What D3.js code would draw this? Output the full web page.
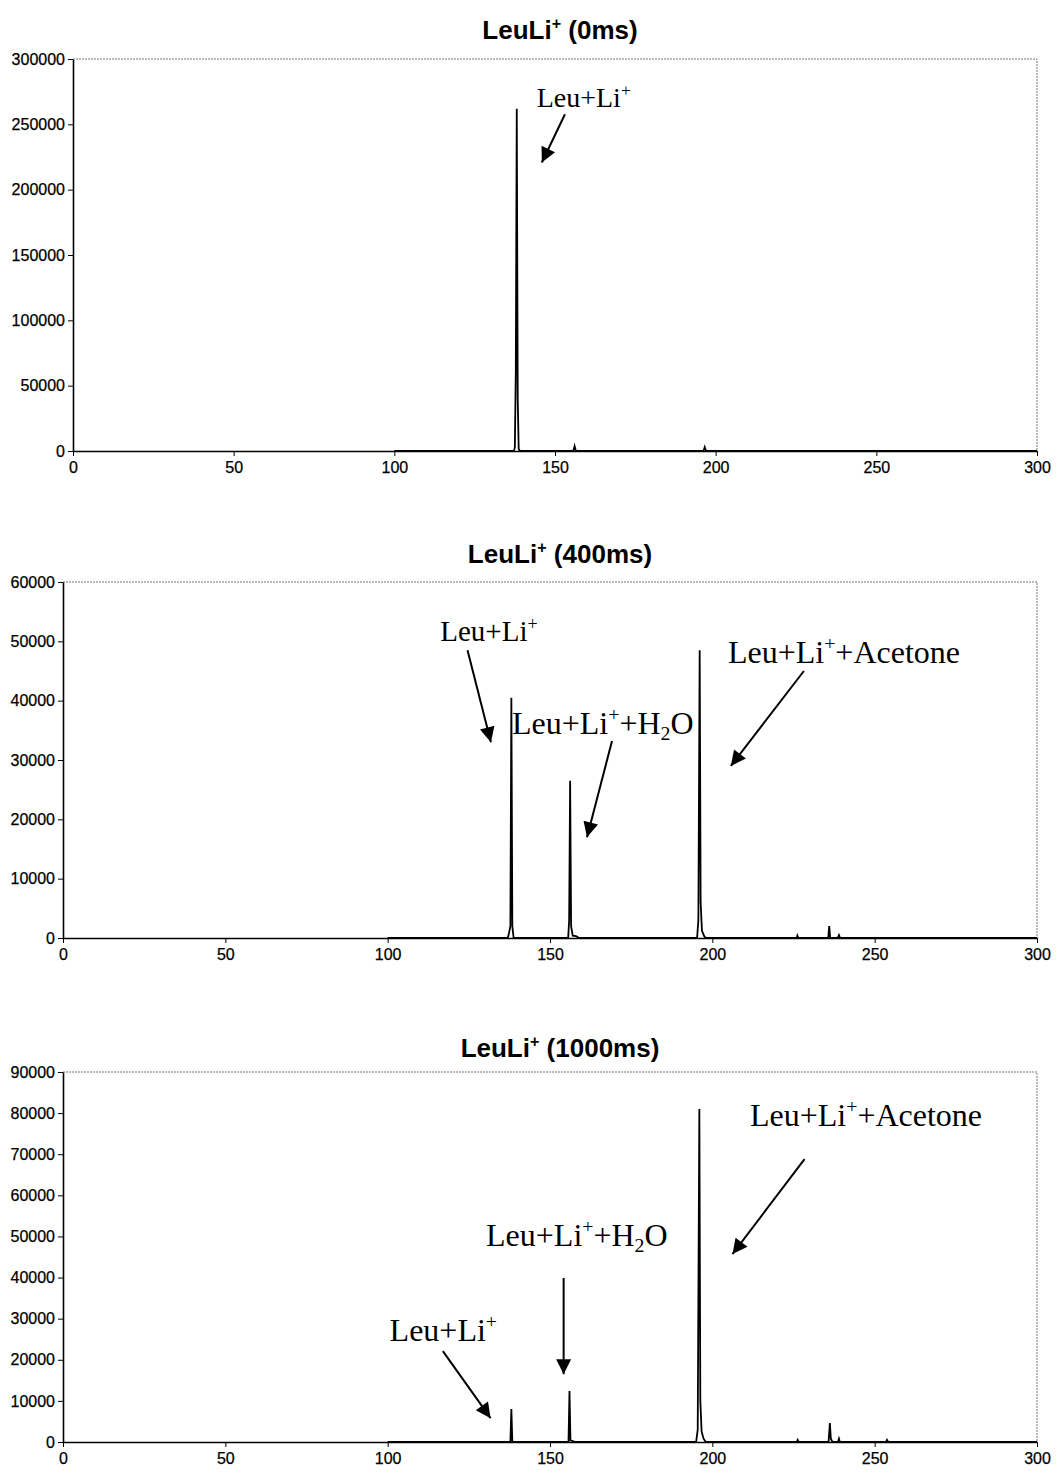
<!DOCTYPE html>
<html lang="en">
<head>
    <meta charset="UTF-8">
    <title>LeuLi+ spectra</title>
    <style>
        body {
            margin: 0;
            background: #fff;
        }
        .tick text {
            font-family: Arial, "Liberation Sans", sans-serif;
            font-size: 16px;
            fill: #000;
            stroke: #000;
            stroke-width: 0.25px;
        }
        .title {
            font-family: Arial, "Liberation Sans", sans-serif;
            font-weight: bold;
            fill: #000;
        }
        .note {
            font-family: "Times New Roman", "Liberation Serif", serif;
            fill: #000;
        }
    </style>
    <script src="https://d3js.org/d3.v7.min.js"></script>
</head>
<body>
<div id="chart"></div>

<script>
    // Titles and axis settings for the three spectra
    const titles = ["LeuLi^+ (0ms)", "LeuLi^+ (400ms)", "LeuLi^+ (1000ms)"];
    const yMaxes = [300000, 60000, 90000];
    const yTickSteps = [50000, 10000, 10000];
    const xTicks = [0, 50, 100, 150, 200, 250, 300];

    // Spectrum points [m/z, intensity]
    const spec0ms = [
        [100, 0], [137.2, 0], [137.5, 2500], [137.8, 60000], [138.1, 262000], [138.4, 40000],
        [138.7, 1500], [139.1, 0], [155.7, 0], [156.1, 3800], [156.5, 0],
        [196.2, 0], [196.6, 3000], [197, 0], [300, 0]
    ];
    const spec400ms = [
        [100, 0], [137, 0], [137.4, 900], [137.8, 2000], [138.1, 40500], [138.4, 2000],
        [138.8, 0], [155.6, 0], [155.9, 3000], [156.2, 26500], [156.5, 2000], [157, 400],
        [158, 300], [159, 0], [195.3, 0], [195.7, 3000], [196.1, 48500], [196.4, 6000],
        [196.8, 1200], [197.5, 300], [198, 0], [226, 0], [226.2, 400], [226.5, 0],
        [235.7, 0], [236, 2000], [236.3, 0], [238.6, 0], [239, 500], [239.4, 0], [300, 0]
    ];
    const spec1000ms = [
        [100, 0], [137.8, 0], [138.1, 8000], [138.4, 0], [155.7, 0], [156, 12400],
        [156.3, 400], [157, 200], [158, 0], [195, 0], [195.5, 3000], [196, 81000],
        [196.3, 10000], [196.7, 2500], [197.3, 800], [198, 0], [226, 0], [226.3, 500],
        [226.6, 0], [235.8, 0], [236.2, 4600], [236.5, 800], [237, 0], [238.7, 0],
        [239, 800], [239.3, 0], [253.5, 0], [253.8, 500], [254.2, 0], [300, 0]
    ];

    // Annotations: text anchor (m/z, intensity) and arrow from -> to, in data units
    const notes0ms = [
        { text: "Leu+Li^+", x: 144.3, y: 263000, x1: 153.1, y1: 257700, x2: 145.9, y2: 220800 }
    ];
    const notes400ms = [
        { text: "Leu+Li^+", x: 116.2, y: 50000, x1: 124.6, y1: 48500, x2: 131.8, y2: 33000 },
        { text: "Leu+Li^++H_2O", x: 138.3, y: 34400, x1: 169.1, y1: 33200, x2: 161.4, y2: 17000 },
        { text: "Leu+Li^++Acetone", x: 204.8, y: 46300, x1: 228.2, y1: 45000, x2: 205.7, y2: 29000 }
    ];
    const notes1000ms = [
        { text: "Leu+Li^++Acetone", x: 211.6, y: 76900, x1: 228.4, y1: 68800, x2: 206.2, y2: 45700 },
        { text: "Leu+Li^++H_2O", x: 130.3, y: 47700, x1: 154.2, y1: 39900, x2: 154.2, y2: 16500 },
        { text: "Leu+Li^+", x: 100.6, y: 24600, x1: 117, y1: 22100, x2: 131.7, y2: 5800 }
    ];

    const spectra = [spec0ms, spec400ms, spec1000ms];
    const notes = [notes0ms, notes400ms, notes1000ms];

    // Font sizes of the annotation labels, per panel
    const noteSizes = [[28], [29, 32, 32], [32, 32, 32]];

    // Plot boxes on the page (left, right, top, bottom, title baseline)
    const boxes = [
        { l: 73, r: 1037, t: 59, b: 451, ty: 39 },
        { l: 63, r: 1037, t: 582, b: 938, ty: 563 },
        { l: 63, r: 1037, t: 1072, b: 1442, ty: 1057 }
    ];

    const svg = d3.select("#chart").append("svg")
        .attr("width", 1057)
        .attr("height", 1473);

    svg.append("defs").append("marker")
        .attr("id", "head")
        .attr("viewBox", "0 0 10 10")
        .attr("refX", 10)
        .attr("refY", 5)
        .attr("markerUnits", "userSpaceOnUse")
        .attr("markerWidth", 18)
        .attr("markerHeight", 15)
        .attr("orient", "auto")
        .append("path")
        .attr("d", "M0,0 L10,5 L0,10 z")
        .attr("fill", "#000");

    // write text with ^x superscript and _x subscript markers
    function richText(sel, str, size) {
        const runs = [];
        for (let i = 0; i < str.length; i++) {
            let ch = str[i];
            if ((ch === "^" || ch === "_") && i + 1 < str.length) {
                runs.push({ mode: ch, s: str[++i] });
            } else if (runs.length && runs[runs.length - 1].mode === "n") {
                runs[runs.length - 1].s += ch;
            } else {
                runs.push({ mode: "n", s: ch });
            }
        }
        let shift = 0;
        runs.forEach(r => {
            const target = r.mode === "^" ? -size * 0.4 : r.mode === "_" ? size * 0.2 : 0;
            sel.append("tspan")
                .attr("dy", target - shift)
                .attr("font-size", r.mode === "n" ? size : size * 0.62)
                .text(r.s);
            shift = target;
        });
    }

    function drawPanel(i) {
        const box = boxes[i];
        const g = svg.append("g");

        const x = d3.scaleLinear().domain([0, 300]).range([box.l, box.r]);
        const y = d3.scaleLinear().domain([0, yMaxes[i]]).range([box.b, box.t]);

        // dotted frame on top and right
        g.append("path")
            .attr("d", `M${box.l},${box.t}H${box.r}V${box.b}`)
            .attr("fill", "none")
            .attr("stroke", "#777")
            .attr("stroke-width", 1)
            .attr("stroke-dasharray", "2,1");

        // y axis
        const yAxis = g.append("g")
            .attr("transform", `translate(${box.l},0)`)
            .call(d3.axisLeft(y)
                .tickValues(d3.range(0, yMaxes[i] + 1, yTickSteps[i]))
                .tickFormat(d3.format("d"))
                .tickSize(5)
                .tickPadding(3)
                .tickSizeOuter(0));

        // x axis
        const xAxis = g.append("g")
            .attr("transform", `translate(0,${box.b})`)
            .call(d3.axisBottom(x)
                .tickValues(xTicks)
                .tickFormat(d3.format("d"))
                .tickSize(5)
                .tickPadding(6)
                .tickSizeOuter(0));

        [xAxis, yAxis].forEach(a => {
            a.select(".domain").attr("stroke", "#000").attr("stroke-width", 1.6);
            a.selectAll(".tick line").attr("stroke", "#000");
        });

        // spectrum trace
        g.append("path")
            .datum(spectra[i])
            .attr("fill", "none")
            .attr("stroke", "#000")
            .attr("stroke-width", 1.8)
            .attr("d", d3.line()
                .x(d => x(d[0]))
                .y(d => y(d[1])));

        // title
        const t = g.append("text")
            .attr("class", "title")
            .attr("x", 560)
            .attr("y", box.ty)
            .attr("text-anchor", "middle");
        richText(t, titles[i], 26);

        // annotations
        notes[i].forEach((n, k) => {
            const txt = g.append("text")
                .attr("class", "note")
                .attr("x", x(n.x))
                .attr("y", y(n.y));
            richText(txt, n.text, noteSizes[i][k]);

            g.append("line")
                .attr("x1", x(n.x1))
                .attr("y1", y(n.y1))
                .attr("x2", x(n.x2))
                .attr("y2", y(n.y2))
                .attr("stroke", "#000")
                .attr("stroke-width", 2)
                .attr("marker-end", "url(#head)");
        });
    }

    spectra.forEach((s, i) => drawPanel(i));
</script>

</body>
</html>
